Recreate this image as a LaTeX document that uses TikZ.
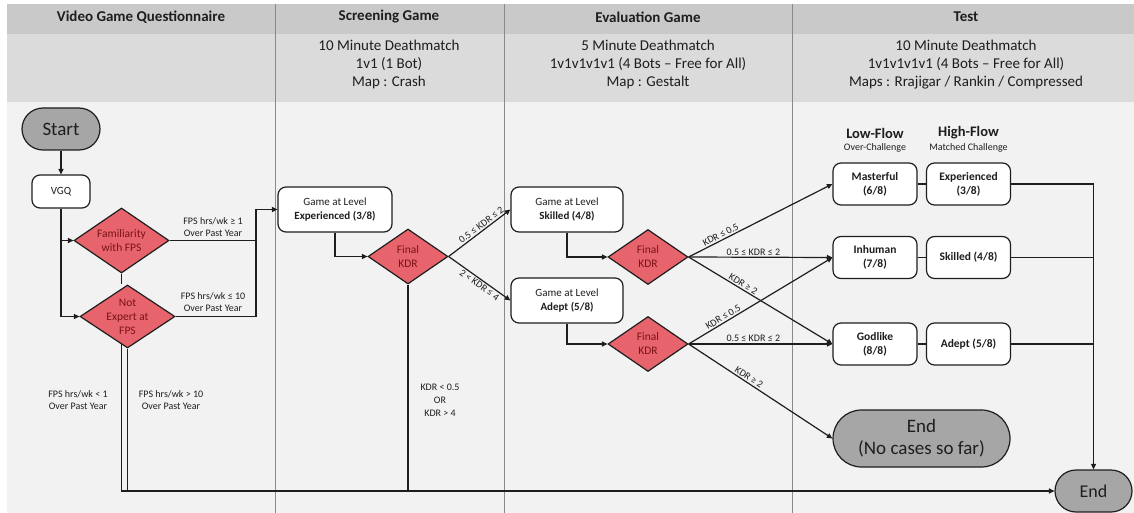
\documentclass[tikz,border=0pt]{standalone}
\usepackage{fontspec}
\setmainfont{Carlito}
\usetikzlibrary{arrows.meta,shapes.geometric,calc}
\definecolor{hdr}{HTML}{C9C9C9}
\definecolor{subc}{HTML}{DBDBDB}
\definecolor{bodybg}{HTML}{F2F2F2}
\definecolor{pill}{HTML}{A6A6A6}
\definecolor{dfill}{HTML}{E8646C}
\definecolor{dtxt}{HTML}{7A1414}
\definecolor{divc}{HTML}{8A8A8A}
\definecolor{ink}{HTML}{1E1E1E}
\begin{document}
\begin{tikzpicture}[x=1pt,y=-1pt,
 box/.style={draw=ink, line width=1.2pt, fill=white, rounded corners=8pt, align=center, text=ink, font=\fontsize{11}{13.5}\selectfont, inner sep=0pt},
 tbox/.style={box, minimum width=84pt, minimum height=42pt, font=\bfseries\fontsize{11.5}{14}\selectfont},
 pillnode/.style={draw=ink, line width=1.2pt, fill=pill, align=center, text=ink, inner sep=0pt},
 dia/.style={diamond, draw=ink, line width=1.2pt, fill=dfill, inner sep=0pt},
 dtext/.style={text=dtxt, align=center, font=\fontsize{11.5}{14}\selectfont},
 conn/.style={draw=ink, line width=1.2pt},
 arr/.style={conn, -{Triangle[length=5.5pt,width=5pt]}},
 lbl/.style={font=\fontsize{10}{12}\selectfont, align=center, text=ink, inner sep=1.5pt},
 hdrtxt/.style={font=\bfseries\fontsize{15}{17}\selectfont, text=ink},
 subtxt/.style={font=\fontsize{15}{18}\selectfont, align=center, text=ink},
 flowhd/.style={font=\bfseries\fontsize{14.5}{16}\selectfont, text=ink},
 flowsub/.style={font=\fontsize{10}{12}\selectfont, text=ink},
]
\useasboundingbox (0,0) rectangle (1134,513);
% backgrounds
\fill[hdr] (7,4) rectangle (1134,34);
\fill[subc] (7,34) rectangle (1134,102);
\fill[bodybg] (7,102) rectangle (1134,513);
\foreach \xx in {275,504,792} \draw[divc, line width=1pt] (\xx,4) -- (\xx,513);
% headers
\node[hdrtxt] (h1) at (141,17) {Video Game Questionnaire};
\node[hdrtxt] (h2) at (389,17) {Screening Game};
\node[hdrtxt] (h3) at (648,17) {Evaluation Game};
\node[hdrtxt] (h4) at (966,17) {Test};
\node[subtxt] (s2) at (389,65) {10 Minute Deathmatch\\1v1 (1 Bot)\\Map : Crash};
\node[subtxt] (s3) at (648,65) {5 Minute Deathmatch\\1v1v1v1v1 (4 Bots -- Free for All)\\Map : Gestalt};
\node[subtxt] (s4) at (966,65) {10 Minute Deathmatch\\1v1v1v1v1 (4 Bots -- Free for All)\\Maps : Rrajigar / Rankin / Compressed};
% column 1
\node[pillnode, minimum width=78pt, minimum height=42pt, rounded corners=21pt, font=\fontsize{19}{22}\selectfont] (start) at (61,129) {Start};
\node[box, minimum width=58pt, minimum height=33pt] (vgq) at (61,191.5) {VGQ};
\node[dia, minimum width=95pt, minimum height=65pt] (fam) at (121.5,240.5) {};
\node[dtext] (famT) at (fam) {Familiarity\\with FPS};
\node[dia, minimum width=95pt, minimum height=63pt] (ne) at (127.5,316.5) {};
\node[dtext] (neT) at (ne) {Not\\Expert at\\FPS};
% column 2
\node[box, minimum width=114pt, minimum height=45pt] (expg) at (335,209.5) {Game at Level\\\textbf{Experienced (3/8)}};
\node[dia, minimum width=80pt, minimum height=55pt] (d1) at (408,256.5) {};
\node[dtext] (d1T) at (d1) {Final\\KDR};
% column 3
\node[box, minimum width=112pt, minimum height=45pt] (skg) at (567,209.5) {Game at Level\\\textbf{Skilled (4/8)}};
\node[box, minimum width=112pt, minimum height=45pt] (adg) at (567,300.5) {Game at Level\\\textbf{Adept (5/8)}};
\node[dia, minimum width=80pt, minimum height=55pt] (d2) at (648,257) {};
\node[dtext] (d2T) at (d2) {Final\\KDR};
\node[dia, minimum width=80pt, minimum height=55pt] (d3) at (648,344) {};
\node[dtext] (d3T) at (d3) {Final\\KDR};
% column 4
\node[flowhd] (lf) at (875,133) {Low-Flow};
\node[flowsub] (lfs) at (875,148) {Over-Challenge};
\node[flowhd] (hf) at (968.5,133) {High-Flow};
\node[flowsub] (hfs) at (968.5,148) {Matched Challenge};
\node[tbox] (mas) at (875,184) {Masterful\\(6/8)};
\node[tbox] (expT) at (968.5,184) {Experienced\\(3/8)};
\node[tbox] (inh) at (875,257.5) {Inhuman\\(7/8)};
\node[tbox] (sklT) at (968.5,257.5) {Skilled (4/8)};
\node[tbox] (god) at (875,344) {Godlike\\(8/8)};
\node[tbox] (adpT) at (968.5,344) {Adept (5/8)};
\node[pillnode, minimum width=177pt, minimum height=57pt, rounded corners=28.5pt, font=\fontsize{19}{22}\selectfont] (end2) at (921.5,438.5) {End\\(No cases so far)};
\node[pillnode, minimum width=77pt, minimum height=42pt, rounded corners=21pt, font=\fontsize{18}{20}\selectfont] (endR) at (1093.5,491) {End};
% connectors column 1
\draw[arr] (start) -- (vgq);
\draw[arr] (vgq.south) |- (fam.west);
\draw[arr] (vgq.south) |- (ne.west);
\draw[conn] (fam.south) -- (fam.south |- ne.north);
\coordinate (jx) at (256,0);
\draw[arr] (fam.east) -| (jx |- expg.west) -- (expg.west);
\draw[conn] (ne.east) -| (jx |- expg.west);
\node[lbl] (l1) at (213,227.5) {FPS hrs/wk ≥ 1\\Over Past Year};
\node[lbl] (l2) at (213,302) {FPS hrs/wk ≤ 10\\Over Past Year};
\coordinate (nel) at (121.5,344);
\draw[arr] (ne.south) |- (endR.west);
\draw[conn] (nel) |- (ne.south |- endR.west);
\node[lbl] (l3) at (78,400) {FPS hrs/wk < 1\\Over Past Year};
\node[lbl] (l4) at (171,400) {FPS hrs/wk > 10\\Over Past Year};
% column 2
\draw[arr] (expg.south) |- (d1.west);
\draw[conn] (d1.south) -- (d1.south |- endR.west);
\node[lbl, font=\fontsize{10}{13}\selectfont] (l5) at (440,400) {KDR < 0.5\\OR\\KDR > 4};
\draw[arr] (d1.east) -- node[lbl, sloped, above, pos=0.58] {0.5 ≤ KDR ≤ 2} (skg.west);
\draw[arr] (d1.east) -- node[lbl, sloped, below, pos=0.55] {2 < KDR ≤ 4} (adg.west);
% column 3
\draw[arr] (skg.south) |- (d2.west);
\draw[arr] (adg.south) |- (d3.west);
\draw[arr] (d2.east) -- node[lbl, sloped, above, pos=0.24] {KDR ≤ 0.5} (mas.west);
\draw[arr] (d2.east) -- node[lbl, above, pos=0.45] {0.5 ≤ KDR ≤ 2} (inh.west);
\draw[arr] (d2.east) -- node[lbl, sloped, above, pos=0.36] {KDR ≥ 2} (god.west);
\draw[arr] (d3.east) -- node[lbl, sloped, above, pos=0.26] {KDR ≤ 0.5} (inh.west);
\draw[arr] (d3.east) -- node[lbl, above, pos=0.45] {0.5 ≤ KDR ≤ 2} (god.west);
\draw[arr] (d3.east) -- node[lbl, sloped, above, pos=0.4] {KDR ≥ 2} (end2.west);
% column 4
\draw[conn] (mas.east) -- (expT.west);
\draw[conn] (inh.east) -- (sklT.west);
\draw[conn] (god.east) -- (adpT.west);
\draw[arr] (expT.east) -| (endR.north);
\draw[conn] (sklT.east) -- (sklT.east -| endR.north);
\draw[conn] (adpT.east) -- (adpT.east -| endR.north);
\end{tikzpicture}
\end{document}
